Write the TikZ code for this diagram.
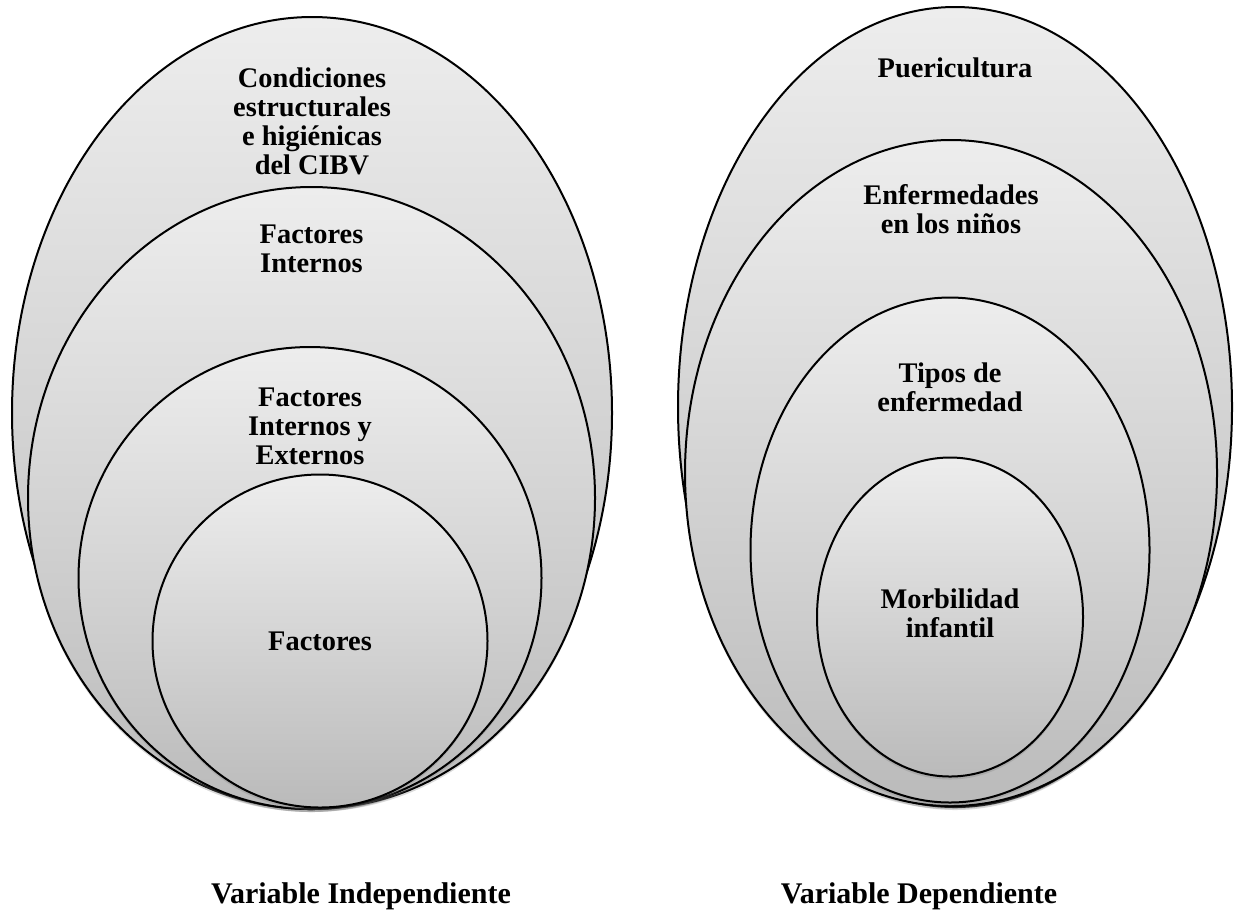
\documentclass[tikz,border=0pt]{standalone}
\usepackage{fontspec}
\setmainfont{Liberation Serif}
\usetikzlibrary{positioning}
\usetikzlibrary{shapes.geometric}
\usetikzlibrary{shadows}
\tikzset{
  capa/.style 2 args={ellipse,draw,line width=1pt,inner sep=0pt,
    top color=black!7,bottom color=black!27,
    drop shadow={shadow xshift=0pt,shadow yshift=-1.5pt,opacity=0.3},
    minimum width=#1,minimum height=#2},
  rotulo/.style={align=center,inner sep=0pt,outer sep=0pt,
    font=\fontsize{14.2}{14.5}\selectfont\bfseries},
  titulo/.style={inner sep=0pt,outer sep=0pt,anchor=base,
    font=\fontsize{15}{17}\selectfont\bfseries},
}

\begin{document}
\begin{tikzpicture}[x=0.5pt,y=-0.5pt]
  \useasboundingbox (0,0) rectangle (1240,912);
  % variable independiente
  \node (L1) [capa={300pt}{396pt}] at (312,413) {};
  \node (L2) [capa={283.5pt}{311pt}] at (311.5,498) {};
  \node (L3) [capa={231.5pt}{231pt}] at (310,578) {};
  \node (L4) [capa={167.5pt}{166.5pt}] at (320,641) {};
  \node (t1) [rotulo,below=26pt of L1.north]
    {Condiciones\\estructurales\\e higiénicas\\del CIBV};
  \node (t2) [rotulo,below=19.5pt of L2.north] {Factores\\Internos};
  \node (t3) [rotulo,below=21pt of L3.north] {Factores\\Internos y\\Externos};
  \node (t4) [rotulo] at (L4) {Factores};
  % variable dependiente
  \node (R1) [capa={277pt}{400pt}] at (955,407) {};
  \node (R2) [capa={266pt}{333pt}] at (951,473) {};
  \node (R3) [capa={199.5pt}{252.5pt}] at (950,550) {};
  \node (R4) [capa={133pt}{159.5pt}] at (950,617) {};
  \node (u1) [rotulo,below=26pt of R1.north] {Puericultura};
  \node (u2) [rotulo,below=22.5pt of R2.north] {Enfermedades\\en los niños};
  \node (u3) [rotulo,below=33pt of R3.north] {Tipos de\\enfermedad};
  \node (u4) [rotulo,yshift=2pt] at (R4) {Morbilidad\\infantil};
  % titulos
  \node (vi) [titulo] at (361,903) {Variable Independiente};
  \node (vd) [titulo] at (919,903) {Variable Dependiente};
\end{tikzpicture}
\end{document}
